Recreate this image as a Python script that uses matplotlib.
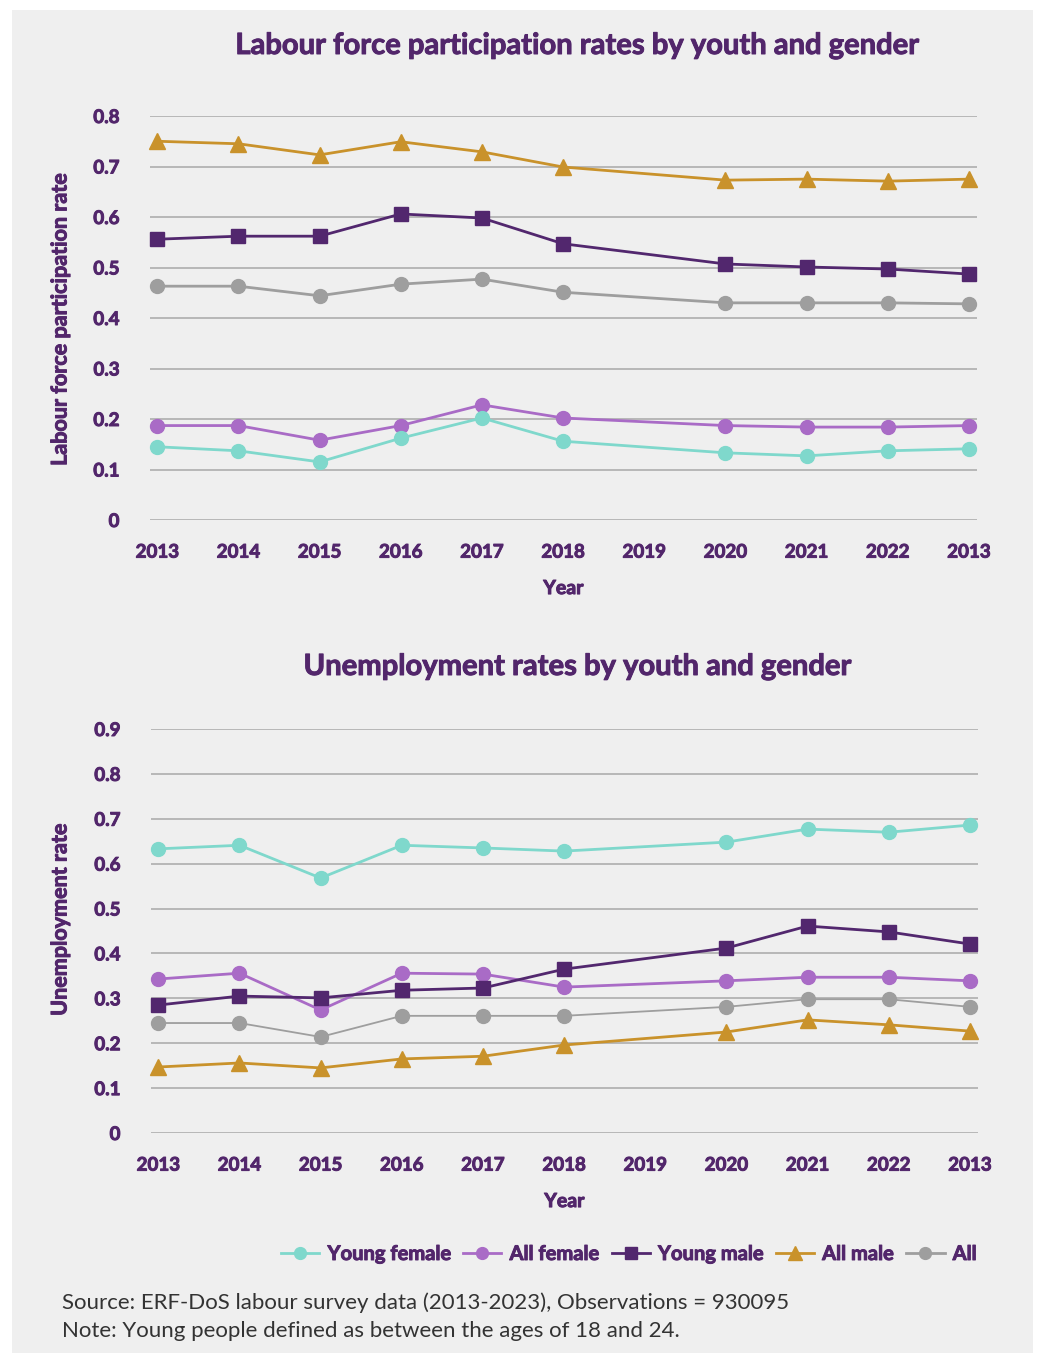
import matplotlib
matplotlib.use("Agg")
import matplotlib.pyplot as plt
import matplotlib.patheffects as pe
from matplotlib.patches import Rectangle
from matplotlib.lines import Line2D

plt.rcParams['font.family'] = ['Lato', 'DejaVu Sans']

# ---- data ----
x_labels = ["2013", "2014", "2015", "2016", "2017", "2018", "2019", "2020", "2021", "2022", "2013"]
data_idx = [0, 1, 2, 3, 4, 5, 7, 8, 9, 10]  # no 2019 observation

series_names = ["Young female", "All female", "Young male", "All male", "All"]

lfp_young_female = [0.145, 0.137, 0.115, 0.162, 0.202, 0.156, 0.133, 0.127, 0.137, 0.141]
lfp_all_female   = [0.187, 0.187, 0.158, 0.187, 0.228, 0.202, 0.187, 0.184, 0.184, 0.187]
lfp_young_male   = [0.556, 0.562, 0.562, 0.606, 0.598, 0.547, 0.507, 0.501, 0.497, 0.487]
lfp_all_male     = [0.750, 0.745, 0.723, 0.749, 0.729, 0.699, 0.673, 0.675, 0.671, 0.675]
lfp_all          = [0.463, 0.463, 0.444, 0.467, 0.477, 0.451, 0.430, 0.430, 0.430, 0.428]

ue_young_female = [0.633, 0.641, 0.568, 0.641, 0.635, 0.628, 0.648, 0.677, 0.670, 0.686]
ue_all_female   = [0.343, 0.356, 0.274, 0.356, 0.354, 0.325, 0.339, 0.347, 0.347, 0.339]
ue_young_male   = [0.285, 0.305, 0.301, 0.318, 0.323, 0.365, 0.412, 0.461, 0.448, 0.421]
ue_all_male     = [0.147, 0.156, 0.145, 0.165, 0.171, 0.196, 0.225, 0.252, 0.241, 0.227]
ue_all          = [0.245, 0.245, 0.214, 0.261, 0.261, 0.261, 0.281, 0.298, 0.298, 0.281]

lfp_ticks = [0, 0.1, 0.2, 0.3, 0.4, 0.5, 0.6, 0.7, 0.8]
ue_ticks = [0, 0.1, 0.2, 0.3, 0.4, 0.5, 0.6, 0.7, 0.8, 0.9]

# ---- styles ----
TXT = "#52266b"
WT = "bold"
STROKE = [pe.withStroke(linewidth=0.7, foreground=TXT)]
colors = {"Young female": "#7fd8cc", "All female": "#a96bc6", "Young male": "#52276e",
          "All male": "#c9922b", "All": "#9e9e9e"}
markers = {"Young female": "o", "All female": "o", "Young male": "s", "All male": "^", "All": "o"}
msize = {"Young female": 10, "All female": 10, "Young male": 9.5, "All male": 12, "All": 10}

W, H = 1040, 1355
fig = plt.figure(figsize=(W / 100, H / 100), dpi=100, facecolor="white")
fig.patches.append(Rectangle((12 / W, 1 - 1353 / H), (1033 - 12) / W, (1353 - 10) / H,
                             transform=fig.transFigure, facecolor="#efefef", edgecolor="none", zorder=-10))


def fmt(v):
    return "0" if v == 0 else f"{v:g}"


def make_axes(left_px, right_px, top_px, bot_px, ylim, ticks, series, title, title_y, all_lw):
    ax = fig.add_axes([left_px / W, 1 - bot_px / H, (right_px - left_px) / W, (bot_px - top_px) / H])
    ax.set_facecolor("none")
    for s in ax.spines.values():
        s.set_visible(False)
    ax.set_ylim(*ylim)
    ax.set_xlim(-0.09, 10.1)
    ax.set_yticks(ticks)
    ax.set_yticklabels([fmt(t) for t in ticks])
    ax.set_xticks(range(len(x_labels)))
    ax.set_xticklabels(x_labels)
    ax.tick_params(axis="both", length=0, labelcolor=TXT, labelsize=13.5)
    ax.tick_params(axis="y", pad=22)
    ax.tick_params(axis="x", pad=17)
    for lab in ax.get_xticklabels() + ax.get_yticklabels():
        lab.set_fontweight(WT)
        lab.set_path_effects(STROKE)
    ax.yaxis.grid(True, color="#b3b3b3", linewidth=1.3)
    ax.set_axisbelow(True)
    for name, vals in series:
        lw = all_lw if name == "All" else 2.0
        ax.plot(data_idx, vals, color=colors[name], marker=markers[name], markersize=msize[name],
                linewidth=lw, clip_on=False, zorder=3)
    xl = ax.set_xlabel("Year", color=TXT, fontsize=14, fontweight=WT, labelpad=14)
    xl.set_path_effects(STROKE)
    fig.text(577 / W, 1 - title_y / H, title, ha="center", va="center", color=TXT,
             fontsize=21, fontweight=WT, path_effects=STROKE)
    return ax


ax1 = make_axes(150, 977, 116, 520, (0, 0.8), lfp_ticks,
                [("All", lfp_all), ("Young male", lfp_young_male), ("All male", lfp_all_male),
                 ("All female", lfp_all_female), ("Young female", lfp_young_female)],
                "Labour force participation rates by youth and gender", 46, 2.0)
fig.text(60 / W, 1 - 320 / H, "Labour force participation rate", rotation=90, ha="center", va="center",
         color=TXT, fontsize=15.5, fontweight=WT, path_effects=STROKE)

ax2 = make_axes(151, 978, 729, 1133, (0, 0.9), ue_ticks,
                [("All", ue_all), ("All male", ue_all_male), ("All female", ue_all_female),
                 ("Young male", ue_young_male), ("Young female", ue_young_female)],
                "Unemployment rates by youth and gender", 667, 1.3)
fig.text(60 / W, 1 - 920 / H, "Unemployment rate", rotation=90, ha="center", va="center",
         color=TXT, fontsize=15.5, fontweight=WT, path_effects=STROKE)

handles = [Line2D([0], [0], color=colors[n], marker=markers[n], markersize=msize[n] * 0.85, linewidth=2.0)
           for n in series_names]
leg = fig.legend(handles, series_names, loc="center right", bbox_to_anchor=(995 / W, 1 - 1254 / H),
                 ncol=5, frameon=False, handlelength=1.9, handletextpad=0.4, columnspacing=0.6,
                 prop={"weight": WT, "size": 14.5})
for t in leg.get_texts():
    t.set_color(TXT)
    t.set_path_effects(STROKE)

fig.text(62 / W, 1 - 1303 / H, "Source: ERF-DoS labour survey data (2013-2023), Observations = 930095",
         ha="left", va="center", color="#333333", fontsize=16, fontweight="normal")
fig.text(62 / W, 1 - 1331 / H, "Note: Young people defined as between the ages of 18 and 24.",
         ha="left", va="center", color="#333333", fontsize=16, fontweight="normal")

fig.savefig("out.png", dpi=100, facecolor="white")
